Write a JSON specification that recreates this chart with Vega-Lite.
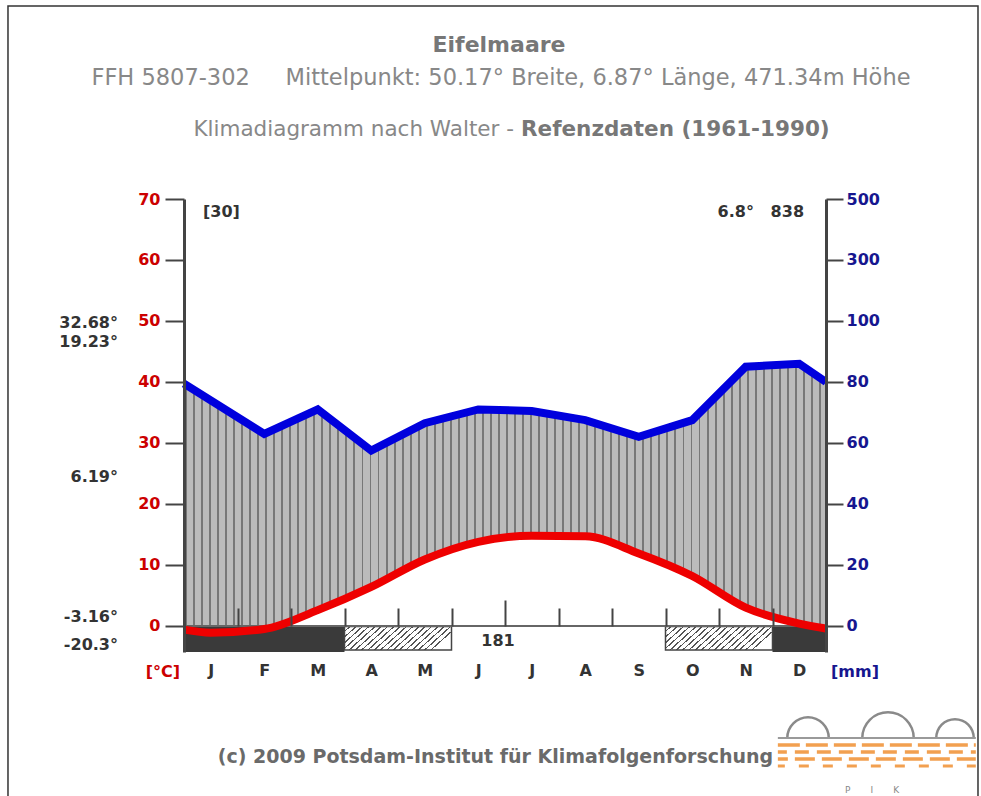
{
"$schema": "https://vega.github.io/schema/vega-lite/v6.json",
"width": 642, "height": 453,
"autosize": {"type": "none"},
"padding": {"left": 184, "top": 199, "right": 155, "bottom": 144},
"background": "white",
"config": {"view": {"stroke": null}, "axis": {"grid": false}},
"datasets": {
"temp": [{"m":0,"t":-0.6},{"m":0.5,"t":-1.1},{"m":1.5,"t":-0.5},{"m":2.5,"t":2.6},{"m":3.5,"t":6.4},{"m":4.5,"t":10.9},{"m":5.5,"t":13.8},{"m":6.5,"t":14.8},{"m":7.5,"t":14.7},{"m":8.5,"t":11.9},{"m":9.5,"t":8.2},{"m":10.5,"t":3.0},{"m":11.5,"t":0.4},{"m":12,"t":-0.4}],
"precip": [{"m":0,"mm":79.5},{"m":0.5,"mm":74},{"m":1.5,"mm":63},{"m":2.5,"mm":71},{"m":3.5,"mm":57.5},{"m":4.5,"mm":66.5},{"m":5.5,"mm":71},{"m":6.5,"mm":70.5},{"m":7.5,"mm":67.5},{"m":8.5,"mm":62},{"m":9.5,"mm":67.5},{"m":10.5,"mm":85},{"m":11.5,"mm":86},{"m":12,"mm":80}],
"frost": [{"start":0,"end":3},{"start":11,"end":12}],
"hatch": [{"start":3,"end":5},{"start":9,"end":11}],
"one": [{}]
},
"layer": [
{
"data": {"name": "precip"},
"layer": [
{"mark": {"type": "area", "color": {"gradient": "linear", "x1": 0, "y1": 0, "x2": 1, "y2": 0, "stops": [
{"offset":0,"color":"#bbb"},
{"offset":0.0015,"color":"#bbb"},{"offset":0.0015,"color":"#777"},{"offset":0.0045,"color":"#777"},{"offset":0.0045,"color":"#bbb"},
{"offset":0.014,"color":"#bbb"},{"offset":0.014,"color":"#777"},{"offset":0.017,"color":"#777"},{"offset":0.017,"color":"#bbb"},
{"offset":0.0265,"color":"#bbb"},{"offset":0.0265,"color":"#777"},{"offset":0.0295,"color":"#777"},{"offset":0.0295,"color":"#bbb"},
{"offset":0.039,"color":"#bbb"},{"offset":0.039,"color":"#777"},{"offset":0.042,"color":"#777"},{"offset":0.042,"color":"#bbb"},
{"offset":0.0515,"color":"#bbb"},{"offset":0.0515,"color":"#777"},{"offset":0.0545,"color":"#777"},{"offset":0.0545,"color":"#bbb"},
{"offset":0.064,"color":"#bbb"},{"offset":0.064,"color":"#777"},{"offset":0.067,"color":"#777"},{"offset":0.067,"color":"#bbb"},
{"offset":0.0765,"color":"#bbb"},{"offset":0.0765,"color":"#777"},{"offset":0.0795,"color":"#777"},{"offset":0.0795,"color":"#bbb"},
{"offset":0.089,"color":"#bbb"},{"offset":0.089,"color":"#777"},{"offset":0.092,"color":"#777"},{"offset":0.092,"color":"#bbb"},
{"offset":0.1015,"color":"#bbb"},{"offset":0.1015,"color":"#777"},{"offset":0.1045,"color":"#777"},{"offset":0.1045,"color":"#bbb"},
{"offset":0.114,"color":"#bbb"},{"offset":0.114,"color":"#777"},{"offset":0.117,"color":"#777"},{"offset":0.117,"color":"#bbb"},
{"offset":0.1265,"color":"#bbb"},{"offset":0.1265,"color":"#777"},{"offset":0.1295,"color":"#777"},{"offset":0.1295,"color":"#bbb"},
{"offset":0.139,"color":"#bbb"},{"offset":0.139,"color":"#777"},{"offset":0.142,"color":"#777"},{"offset":0.142,"color":"#bbb"},
{"offset":0.1515,"color":"#bbb"},{"offset":0.1515,"color":"#777"},{"offset":0.1545,"color":"#777"},{"offset":0.1545,"color":"#bbb"},
{"offset":0.164,"color":"#bbb"},{"offset":0.164,"color":"#777"},{"offset":0.167,"color":"#777"},{"offset":0.167,"color":"#bbb"},
{"offset":0.1765,"color":"#bbb"},{"offset":0.1765,"color":"#777"},{"offset":0.1795,"color":"#777"},{"offset":0.1795,"color":"#bbb"},
{"offset":0.189,"color":"#bbb"},{"offset":0.189,"color":"#777"},{"offset":0.192,"color":"#777"},{"offset":0.192,"color":"#bbb"},
{"offset":0.2015,"color":"#bbb"},{"offset":0.2015,"color":"#777"},{"offset":0.2045,"color":"#777"},{"offset":0.2045,"color":"#bbb"},
{"offset":0.214,"color":"#bbb"},{"offset":0.214,"color":"#777"},{"offset":0.217,"color":"#777"},{"offset":0.217,"color":"#bbb"},
{"offset":0.2265,"color":"#bbb"},{"offset":0.2265,"color":"#777"},{"offset":0.2295,"color":"#777"},{"offset":0.2295,"color":"#bbb"},
{"offset":0.239,"color":"#bbb"},{"offset":0.239,"color":"#777"},{"offset":0.242,"color":"#777"},{"offset":0.242,"color":"#bbb"},
{"offset":0.2515,"color":"#bbb"},{"offset":0.2515,"color":"#777"},{"offset":0.2545,"color":"#777"},{"offset":0.2545,"color":"#bbb"},
{"offset":0.264,"color":"#bbb"},{"offset":0.264,"color":"#777"},{"offset":0.267,"color":"#777"},{"offset":0.267,"color":"#bbb"},
{"offset":0.2765,"color":"#bbb"},{"offset":0.2765,"color":"#777"},{"offset":0.2795,"color":"#777"},{"offset":0.2795,"color":"#bbb"},
{"offset":0.289,"color":"#bbb"},{"offset":0.289,"color":"#777"},{"offset":0.292,"color":"#777"},{"offset":0.292,"color":"#bbb"},
{"offset":0.3015,"color":"#bbb"},{"offset":0.3015,"color":"#777"},{"offset":0.3045,"color":"#777"},{"offset":0.3045,"color":"#bbb"},
{"offset":0.314,"color":"#bbb"},{"offset":0.314,"color":"#777"},{"offset":0.317,"color":"#777"},{"offset":0.317,"color":"#bbb"},
{"offset":0.3265,"color":"#bbb"},{"offset":0.3265,"color":"#777"},{"offset":0.3295,"color":"#777"},{"offset":0.3295,"color":"#bbb"},
{"offset":0.339,"color":"#bbb"},{"offset":0.339,"color":"#777"},{"offset":0.342,"color":"#777"},{"offset":0.342,"color":"#bbb"},
{"offset":0.3515,"color":"#bbb"},{"offset":0.3515,"color":"#777"},{"offset":0.3545,"color":"#777"},{"offset":0.3545,"color":"#bbb"},
{"offset":0.364,"color":"#bbb"},{"offset":0.364,"color":"#777"},{"offset":0.367,"color":"#777"},{"offset":0.367,"color":"#bbb"},
{"offset":0.3765,"color":"#bbb"},{"offset":0.3765,"color":"#777"},{"offset":0.3795,"color":"#777"},{"offset":0.3795,"color":"#bbb"},
{"offset":0.389,"color":"#bbb"},{"offset":0.389,"color":"#777"},{"offset":0.392,"color":"#777"},{"offset":0.392,"color":"#bbb"},
{"offset":0.4015,"color":"#bbb"},{"offset":0.4015,"color":"#777"},{"offset":0.4045,"color":"#777"},{"offset":0.4045,"color":"#bbb"},
{"offset":0.414,"color":"#bbb"},{"offset":0.414,"color":"#777"},{"offset":0.417,"color":"#777"},{"offset":0.417,"color":"#bbb"},
{"offset":0.4265,"color":"#bbb"},{"offset":0.4265,"color":"#777"},{"offset":0.4295,"color":"#777"},{"offset":0.4295,"color":"#bbb"},
{"offset":0.439,"color":"#bbb"},{"offset":0.439,"color":"#777"},{"offset":0.442,"color":"#777"},{"offset":0.442,"color":"#bbb"},
{"offset":0.4515,"color":"#bbb"},{"offset":0.4515,"color":"#777"},{"offset":0.4545,"color":"#777"},{"offset":0.4545,"color":"#bbb"},
{"offset":0.464,"color":"#bbb"},{"offset":0.464,"color":"#777"},{"offset":0.467,"color":"#777"},{"offset":0.467,"color":"#bbb"},
{"offset":0.4765,"color":"#bbb"},{"offset":0.4765,"color":"#777"},{"offset":0.4795,"color":"#777"},{"offset":0.4795,"color":"#bbb"},
{"offset":0.489,"color":"#bbb"},{"offset":0.489,"color":"#777"},{"offset":0.492,"color":"#777"},{"offset":0.492,"color":"#bbb"},
{"offset":0.5015,"color":"#bbb"},{"offset":0.5015,"color":"#777"},{"offset":0.5045,"color":"#777"},{"offset":0.5045,"color":"#bbb"},
{"offset":0.514,"color":"#bbb"},{"offset":0.514,"color":"#777"},{"offset":0.517,"color":"#777"},{"offset":0.517,"color":"#bbb"},
{"offset":0.5265,"color":"#bbb"},{"offset":0.5265,"color":"#777"},{"offset":0.5295,"color":"#777"},{"offset":0.5295,"color":"#bbb"},
{"offset":0.539,"color":"#bbb"},{"offset":0.539,"color":"#777"},{"offset":0.542,"color":"#777"},{"offset":0.542,"color":"#bbb"},
{"offset":0.5515,"color":"#bbb"},{"offset":0.5515,"color":"#777"},{"offset":0.5545,"color":"#777"},{"offset":0.5545,"color":"#bbb"},
{"offset":0.564,"color":"#bbb"},{"offset":0.564,"color":"#777"},{"offset":0.567,"color":"#777"},{"offset":0.567,"color":"#bbb"},
{"offset":0.5765,"color":"#bbb"},{"offset":0.5765,"color":"#777"},{"offset":0.5795,"color":"#777"},{"offset":0.5795,"color":"#bbb"},
{"offset":0.589,"color":"#bbb"},{"offset":0.589,"color":"#777"},{"offset":0.592,"color":"#777"},{"offset":0.592,"color":"#bbb"},
{"offset":0.6015,"color":"#bbb"},{"offset":0.6015,"color":"#777"},{"offset":0.6045,"color":"#777"},{"offset":0.6045,"color":"#bbb"},
{"offset":0.614,"color":"#bbb"},{"offset":0.614,"color":"#777"},{"offset":0.617,"color":"#777"},{"offset":0.617,"color":"#bbb"},
{"offset":0.6265,"color":"#bbb"},{"offset":0.6265,"color":"#777"},{"offset":0.6295,"color":"#777"},{"offset":0.6295,"color":"#bbb"},
{"offset":0.639,"color":"#bbb"},{"offset":0.639,"color":"#777"},{"offset":0.642,"color":"#777"},{"offset":0.642,"color":"#bbb"},
{"offset":0.6515,"color":"#bbb"},{"offset":0.6515,"color":"#777"},{"offset":0.6545,"color":"#777"},{"offset":0.6545,"color":"#bbb"},
{"offset":0.664,"color":"#bbb"},{"offset":0.664,"color":"#777"},{"offset":0.667,"color":"#777"},{"offset":0.667,"color":"#bbb"},
{"offset":0.6765,"color":"#bbb"},{"offset":0.6765,"color":"#777"},{"offset":0.6795,"color":"#777"},{"offset":0.6795,"color":"#bbb"},
{"offset":0.689,"color":"#bbb"},{"offset":0.689,"color":"#777"},{"offset":0.692,"color":"#777"},{"offset":0.692,"color":"#bbb"},
{"offset":0.7015,"color":"#bbb"},{"offset":0.7015,"color":"#777"},{"offset":0.7045,"color":"#777"},{"offset":0.7045,"color":"#bbb"},
{"offset":0.714,"color":"#bbb"},{"offset":0.714,"color":"#777"},{"offset":0.717,"color":"#777"},{"offset":0.717,"color":"#bbb"},
{"offset":0.7265,"color":"#bbb"},{"offset":0.7265,"color":"#777"},{"offset":0.7295,"color":"#777"},{"offset":0.7295,"color":"#bbb"},
{"offset":0.739,"color":"#bbb"},{"offset":0.739,"color":"#777"},{"offset":0.742,"color":"#777"},{"offset":0.742,"color":"#bbb"},
{"offset":0.7515,"color":"#bbb"},{"offset":0.7515,"color":"#777"},{"offset":0.7545,"color":"#777"},{"offset":0.7545,"color":"#bbb"},
{"offset":0.764,"color":"#bbb"},{"offset":0.764,"color":"#777"},{"offset":0.767,"color":"#777"},{"offset":0.767,"color":"#bbb"},
{"offset":0.7765,"color":"#bbb"},{"offset":0.7765,"color":"#777"},{"offset":0.7795,"color":"#777"},{"offset":0.7795,"color":"#bbb"},
{"offset":0.789,"color":"#bbb"},{"offset":0.789,"color":"#777"},{"offset":0.792,"color":"#777"},{"offset":0.792,"color":"#bbb"},
{"offset":0.8015,"color":"#bbb"},{"offset":0.8015,"color":"#777"},{"offset":0.8045,"color":"#777"},{"offset":0.8045,"color":"#bbb"},
{"offset":0.814,"color":"#bbb"},{"offset":0.814,"color":"#777"},{"offset":0.817,"color":"#777"},{"offset":0.817,"color":"#bbb"},
{"offset":0.8265,"color":"#bbb"},{"offset":0.8265,"color":"#777"},{"offset":0.8295,"color":"#777"},{"offset":0.8295,"color":"#bbb"},
{"offset":0.839,"color":"#bbb"},{"offset":0.839,"color":"#777"},{"offset":0.842,"color":"#777"},{"offset":0.842,"color":"#bbb"},
{"offset":0.8515,"color":"#bbb"},{"offset":0.8515,"color":"#777"},{"offset":0.8545,"color":"#777"},{"offset":0.8545,"color":"#bbb"},
{"offset":0.864,"color":"#bbb"},{"offset":0.864,"color":"#777"},{"offset":0.867,"color":"#777"},{"offset":0.867,"color":"#bbb"},
{"offset":0.8765,"color":"#bbb"},{"offset":0.8765,"color":"#777"},{"offset":0.8795,"color":"#777"},{"offset":0.8795,"color":"#bbb"},
{"offset":0.889,"color":"#bbb"},{"offset":0.889,"color":"#777"},{"offset":0.892,"color":"#777"},{"offset":0.892,"color":"#bbb"},
{"offset":0.9015,"color":"#bbb"},{"offset":0.9015,"color":"#777"},{"offset":0.9045,"color":"#777"},{"offset":0.9045,"color":"#bbb"},
{"offset":0.914,"color":"#bbb"},{"offset":0.914,"color":"#777"},{"offset":0.917,"color":"#777"},{"offset":0.917,"color":"#bbb"},
{"offset":0.9265,"color":"#bbb"},{"offset":0.9265,"color":"#777"},{"offset":0.9295,"color":"#777"},{"offset":0.9295,"color":"#bbb"},
{"offset":0.939,"color":"#bbb"},{"offset":0.939,"color":"#777"},{"offset":0.942,"color":"#777"},{"offset":0.942,"color":"#bbb"},
{"offset":0.9515,"color":"#bbb"},{"offset":0.9515,"color":"#777"},{"offset":0.9545,"color":"#777"},{"offset":0.9545,"color":"#bbb"},
{"offset":0.964,"color":"#bbb"},{"offset":0.964,"color":"#777"},{"offset":0.967,"color":"#777"},{"offset":0.967,"color":"#bbb"},
{"offset":0.9765,"color":"#bbb"},{"offset":0.9765,"color":"#777"},{"offset":0.9795,"color":"#777"},{"offset":0.9795,"color":"#bbb"},
{"offset":0.989,"color":"#bbb"},{"offset":0.989,"color":"#777"},{"offset":0.992,"color":"#777"},{"offset":0.992,"color":"#bbb"},
{"offset":1,"color":"#bbb"}
]}},
 "encoding": {
  "x": {"field": "m", "type": "quantitative", "scale": {"domain": [0, 12], "nice": false, "zero": false}, "axis": null},
  "y": {"field": "mm", "type": "quantitative", "scale": {"domain": [-8.525, 140], "nice": false, "zero": false},
        "axis": {"orient": "right", "values": [0, 20, 40, 60, 80, 100, 120, 140], "labelExpr": "datum.value == 120 ? '300' : datum.value == 140 ? '500' : datum.label", "title": null, "tickSize": 17, "tickWidth": 2, "tickColor": "#444", "domainColor": "#444", "domainWidth": 3, "labelPadding": 3, "labelColor": "#16168f", "labelFont": "DejaVu Sans", "labelFontWeight": "bold", "labelFontSize": 16, "zindex": 1, "grid": false}},
  "y2": {"datum": 0}
 }},
{"mark": {"type": "line", "color": "#0000dd", "strokeWidth": 8},
 "encoding": {
  "x": {"field": "m", "type": "quantitative", "axis": null},
  "y": {"field": "mm", "type": "quantitative",
        "axis": {"orient": "left", "values": [0, 20, 40, 60, 80, 100, 120, 140], "labelExpr": "datum.value / 2", "title": null, "tickSize": 19, "tickWidth": 2, "tickColor": "#444", "domainColor": "#444", "domainWidth": 3, "labelPadding": 5, "labelColor": "#cc0000", "labelFont": "DejaVu Sans", "labelFontWeight": "bold", "labelFontSize": 16, "zindex": 1, "grid": false}}
 }}
],
"resolve": {"axis": {"y": "independent"}}
},
{
"layer": [
{"data": {"name": "temp"},
 "mark": {"type": "area", "color": "white", "interpolate": "monotone"},
 "encoding": {
  "x": {"field": "m", "type": "quantitative", "scale": {"domain": [0, 12], "nice": false, "zero": false},
        "axis": {"orient": "bottom", "values": [0.5, 1.5, 2.5, 3.5, 4.5, 5.5, 6.5, 7.5, 8.5, 9.5, 10.5, 11.5], "labelExpr": "['J','F','M','A','M','J','J','A','S','O','N','D'][floor(datum.value)]", "domain": false, "ticks": false, "labelPadding": 10, "labelFont": "DejaVu Sans", "labelFontWeight": "bold", "labelFontSize": 16, "labelColor": "#333", "labelFlush": false, "title": null, "grid": false}},
  "y": {"field": "t", "type": "quantitative", "scale": {"domain": [-4.262, 70], "nice": false, "zero": false}, "axis": null},
  "y2": {"datum": 0}
 }},
{"data": {"name": "frost"},
 "mark": {"type": "rect", "color": "#3a3a3a"},
 "encoding": {
  "x": {"field": "start", "type": "quantitative", "axis": null},
  "x2": {"field": "end"},
  "y": {"datum": 0, "type": "quantitative", "axis": null},
  "y2": {"datum": -4.262}
 }},
{"data": {"name": "hatch"},
 "mark": {"type": "rect", "stroke": "#444", "strokeWidth": 1.5, "fill": {"gradient": "linear", "x1": 0, "y1": 0, "x2": 1, "y2": 0.243, "stops": [
{"offset":0,"color":"#fff"},
{"offset":0.0389,"color":"#fff"},{"offset":0.0389,"color":"#555"},{"offset":0.0539,"color":"#555"},{"offset":0.0539,"color":"#fff"},
{"offset":0.0944,"color":"#fff"},{"offset":0.0944,"color":"#555"},{"offset":0.1094,"color":"#555"},{"offset":0.1094,"color":"#fff"},
{"offset":0.15,"color":"#fff"},{"offset":0.15,"color":"#555"},{"offset":0.165,"color":"#555"},{"offset":0.165,"color":"#fff"},
{"offset":0.2056,"color":"#fff"},{"offset":0.2056,"color":"#555"},{"offset":0.2206,"color":"#555"},{"offset":0.2206,"color":"#fff"},
{"offset":0.2611,"color":"#fff"},{"offset":0.2611,"color":"#555"},{"offset":0.2761,"color":"#555"},{"offset":0.2761,"color":"#fff"},
{"offset":0.3167,"color":"#fff"},{"offset":0.3167,"color":"#555"},{"offset":0.3317,"color":"#555"},{"offset":0.3317,"color":"#fff"},
{"offset":0.3722,"color":"#fff"},{"offset":0.3722,"color":"#555"},{"offset":0.3872,"color":"#555"},{"offset":0.3872,"color":"#fff"},
{"offset":0.4278,"color":"#fff"},{"offset":0.4278,"color":"#555"},{"offset":0.4428,"color":"#555"},{"offset":0.4428,"color":"#fff"},
{"offset":0.4833,"color":"#fff"},{"offset":0.4833,"color":"#555"},{"offset":0.4983,"color":"#555"},{"offset":0.4983,"color":"#fff"},
{"offset":0.5389,"color":"#fff"},{"offset":0.5389,"color":"#555"},{"offset":0.5539,"color":"#555"},{"offset":0.5539,"color":"#fff"},
{"offset":0.5944,"color":"#fff"},{"offset":0.5944,"color":"#555"},{"offset":0.6094,"color":"#555"},{"offset":0.6094,"color":"#fff"},
{"offset":0.65,"color":"#fff"},{"offset":0.65,"color":"#555"},{"offset":0.665,"color":"#555"},{"offset":0.665,"color":"#fff"},
{"offset":0.7056,"color":"#fff"},{"offset":0.7056,"color":"#555"},{"offset":0.7206,"color":"#555"},{"offset":0.7206,"color":"#fff"},
{"offset":0.7611,"color":"#fff"},{"offset":0.7611,"color":"#555"},{"offset":0.7761,"color":"#555"},{"offset":0.7761,"color":"#fff"},
{"offset":0.8167,"color":"#fff"},{"offset":0.8167,"color":"#555"},{"offset":0.8317,"color":"#555"},{"offset":0.8317,"color":"#fff"},
{"offset":0.8722,"color":"#fff"},{"offset":0.8722,"color":"#555"},{"offset":0.8872,"color":"#555"},{"offset":0.8872,"color":"#fff"},
{"offset":0.9278,"color":"#fff"},{"offset":0.9278,"color":"#555"},{"offset":0.9428,"color":"#555"},{"offset":0.9428,"color":"#fff"},
{"offset":0.9833,"color":"#fff"},{"offset":0.9833,"color":"#555"},{"offset":0.9983,"color":"#555"},{"offset":0.9983,"color":"#fff"},
{"offset":1,"color":"#fff"}
]}},
 "encoding": {
  "x": {"field": "start", "type": "quantitative",
        "axis": {"orient": "top", "offset": -427, "values": [1, 2, 3, 4, 5, 6, 7, 8, 9, 10, 11], "labels": false, "domain": false, "ticks": true, "tickSize": {"condition": {"test": "datum.value == 6", "value": 26}, "value": 18}, "tickWidth": 2, "tickColor": "#444", "zindex": 1, "title": null, "grid": false}},
  "x2": {"field": "end"},
  "y": {"datum": -0.1, "type": "quantitative", "axis": null},
  "y2": {"datum": -3.95}
 }},
{"data": {"name": "one"},
 "mark": {"type": "rule", "color": "#666", "strokeWidth": 2},
 "encoding": {"y": {"datum": 0, "type": "quantitative", "axis": null}}},
{"data": {"name": "one"},
 "mark": {"type": "text", "text": "181", "font": "DejaVu Sans", "fontWeight": "bold", "fontSize": 16, "color": "#333", "align": "center", "baseline": "middle"},
 "encoding": {"x": {"datum": 5.87, "type": "quantitative", "axis": null}, "y": {"datum": -2.46, "type": "quantitative", "axis": null}}},
{"data": {"name": "temp"},
 "mark": {"type": "line", "color": "#ee0000", "strokeWidth": 8, "interpolate": "monotone"},
 "encoding": {
  "x": {"field": "m", "type": "quantitative", "axis": null},
  "y": {"field": "t", "type": "quantitative", "axis": null}
 }},
{"data": {"name": "one"},
 "mark": {"type": "text", "text": "Eifelmaare", "font": "DejaVu Sans", "fontWeight": "bold", "fontSize": 22, "color": "#777", "align": "center", "baseline": "middle"},
 "encoding": {"x": {"datum": 5.888, "type": "quantitative", "axis": null}, "y": {"datum": 95.25, "type": "quantitative", "axis": null}}},
{"data": {"name": "one"},
 "mark": {"type": "text", "text": "FFH 5807-302\u00a0\u00a0\u00a0\u00a0\u00a0Mittelpunkt: 50.17° Breite, 6.87° Länge, 471.34m Höhe", "font": "DejaVu Sans", "fontSize": 22.5, "color": "#888", "align": "center", "baseline": "middle"},
 "encoding": {"x": {"datum": 5.925, "type": "quantitative", "axis": null}, "y": {"datum": 89.84, "type": "quantitative", "axis": null}}},
{"data": {"name": "one"},
 "mark": {"type": "text", "text": "Klimadiagramm nach Walter -", "font": "DejaVu Sans", "fontSize": 21.5, "color": "#888", "align": "right", "baseline": "middle"},
 "encoding": {"x": {"datum": 6.168, "type": "quantitative", "axis": null}, "y": {"datum": 81.31, "type": "quantitative", "axis": null}}},
{"data": {"name": "one"},
 "mark": {"type": "text", "text": "Refenzdaten (1961-1990)", "font": "DejaVu Sans", "fontWeight": "bold", "fontSize": 21.5, "color": "#777", "align": "left", "baseline": "middle"},
 "encoding": {"x": {"datum": 6.299, "type": "quantitative", "axis": null}, "y": {"datum": 81.31, "type": "quantitative", "axis": null}}},
{"data": {"name": "one"},
 "mark": {"type": "text", "text": "[30]", "font": "DejaVu Sans", "fontWeight": "bold", "fontSize": 16, "color": "#333", "align": "left", "baseline": "middle"},
 "encoding": {"x": {"datum": 0.355, "type": "quantitative", "axis": null}, "y": {"datum": 67.87, "type": "quantitative", "axis": null}}},
{"data": {"name": "one"},
 "mark": {"type": "text", "text": "6.8°\u00a0\u00a0\u00a0838", "font": "DejaVu Sans", "fontWeight": "bold", "fontSize": 16, "color": "#333", "align": "right", "baseline": "middle"},
 "encoding": {"x": {"datum": 11.589, "type": "quantitative", "axis": null}, "y": {"datum": 67.87, "type": "quantitative", "axis": null}}},
{"data": {"name": "one"},
 "mark": {"type": "text", "text": "32.68°", "font": "DejaVu Sans", "fontWeight": "bold", "fontSize": 16, "color": "#333", "align": "right", "baseline": "middle"},
 "encoding": {"x": {"datum": -1.234, "type": "quantitative", "axis": null}, "y": {"datum": 49.67, "type": "quantitative", "axis": null}}},
{"data": {"name": "one"},
 "mark": {"type": "text", "text": "19.23°", "font": "DejaVu Sans", "fontWeight": "bold", "fontSize": 16, "color": "#333", "align": "right", "baseline": "middle"},
 "encoding": {"x": {"datum": -1.234, "type": "quantitative", "axis": null}, "y": {"datum": 46.56, "type": "quantitative", "axis": null}}},
{"data": {"name": "one"},
 "mark": {"type": "text", "text": "6.19°", "font": "DejaVu Sans", "fontWeight": "bold", "fontSize": 16, "color": "#333", "align": "right", "baseline": "middle"},
 "encoding": {"x": {"datum": -1.234, "type": "quantitative", "axis": null}, "y": {"datum": 24.43, "type": "quantitative", "axis": null}}},
{"data": {"name": "one"},
 "mark": {"type": "text", "text": "-3.16°", "font": "DejaVu Sans", "fontWeight": "bold", "fontSize": 16, "color": "#333", "align": "right", "baseline": "middle"},
 "encoding": {"x": {"datum": -1.234, "type": "quantitative", "axis": null}, "y": {"datum": 1.475, "type": "quantitative", "axis": null}}},
{"data": {"name": "one"},
 "mark": {"type": "text", "text": "-20.3°", "font": "DejaVu Sans", "fontWeight": "bold", "fontSize": 16, "color": "#333", "align": "right", "baseline": "middle"},
 "encoding": {"x": {"datum": -1.234, "type": "quantitative", "axis": null}, "y": {"datum": -3.115, "type": "quantitative", "axis": null}}},
{"data": {"name": "one"},
 "mark": {"type": "text", "text": "[°C]", "font": "DejaVu Sans", "fontWeight": "bold", "fontSize": 16, "color": "#cc0000", "align": "center", "baseline": "middle"},
 "encoding": {"x": {"datum": -0.393, "type": "quantitative", "axis": null}, "y": {"datum": -7.54, "type": "quantitative", "axis": null}}},
{"data": {"name": "one"},
 "mark": {"type": "text", "text": "[mm]", "font": "DejaVu Sans", "fontWeight": "bold", "fontSize": 16, "color": "#16168f", "align": "center", "baseline": "middle"},
 "encoding": {"x": {"datum": 12.542, "type": "quantitative", "axis": null}, "y": {"datum": -7.54, "type": "quantitative", "axis": null}}},
{"data": {"name": "one"},
 "mark": {"type": "text", "text": "(c) 2009 Potsdam-Institut für Klimafolgenforschung", "font": "DejaVu Sans", "fontWeight": "bold", "fontSize": 19, "color": "#6a6a6a", "align": "center", "baseline": "middle"},
 "encoding": {"x": {"datum": 5.822, "type": "quantitative", "axis": null}, "y": {"datum": -21.475, "type": "quantitative", "axis": null}}},
{"data": {"name": "one"},
 "mark": {"type": "arc", "radius": 22, "radius2": 19.5, "theta": -1.5708, "theta2": 1.5708, "color": "#8a8a8a"},
 "encoding": {"x": {"datum": 11.664, "type": "quantitative", "axis": null}, "y": {"datum": -18.36, "type": "quantitative", "axis": null}}},
{"data": {"name": "one"},
 "mark": {"type": "arc", "radius": 27, "radius2": 24.5, "theta": -1.5708, "theta2": 1.5708, "color": "#8a8a8a"},
 "encoding": {"x": {"datum": 13.159, "type": "quantitative", "axis": null}, "y": {"datum": -18.36, "type": "quantitative", "axis": null}}},
{"data": {"name": "one"},
 "mark": {"type": "arc", "radius": 20, "radius2": 17.5, "theta": -1.5708, "theta2": 1.5708, "color": "#8a8a8a"},
 "encoding": {"x": {"datum": 14.411, "type": "quantitative", "axis": null}, "y": {"datum": -18.36, "type": "quantitative", "axis": null}}},
{"data": {"name": "one"},
 "mark": {"type": "rule", "color": "#9a9a9a", "strokeWidth": 2},
 "encoding": {"x": {"datum": 11.1, "type": "quantitative", "axis": null}, "x2": {"datum": 14.8}, "y": {"datum": -18.36, "type": "quantitative", "axis": null}}},
{"data": {"name": "one"},
 "mark": {"type": "rule", "color": "#f2a050", "strokeWidth": 3.5, "strokeDash": [22, 6]},
 "encoding": {"x": {"datum": 11.1, "type": "quantitative", "axis": null}, "x2": {"datum": 14.8}, "y": {"datum": -19.51, "type": "quantitative", "axis": null}}},
{"data": {"name": "one"},
 "mark": {"type": "rule", "color": "#f2a050", "strokeWidth": 3.5, "strokeDash": [14, 8], "strokeDashOffset": 5},
 "encoding": {"x": {"datum": 11.1, "type": "quantitative", "axis": null}, "x2": {"datum": 14.8}, "y": {"datum": -20.66, "type": "quantitative", "axis": null}}},
{"data": {"name": "one"},
 "mark": {"type": "rule", "color": "#f2a050", "strokeWidth": 3.5, "strokeDash": [20, 7], "strokeDashOffset": 10},
 "encoding": {"x": {"datum": 11.1, "type": "quantitative", "axis": null}, "x2": {"datum": 14.8}, "y": {"datum": -21.8, "type": "quantitative", "axis": null}}},
{"data": {"name": "one"},
 "mark": {"type": "rule", "color": "#f2a050", "strokeWidth": 3, "strokeDash": [10, 14], "strokeDashOffset": 3},
 "encoding": {"x": {"datum": 11.1, "type": "quantitative", "axis": null}, "x2": {"datum": 14.8}, "y": {"datum": -22.95, "type": "quantitative", "axis": null}}},
{"data": {"name": "one"},
 "mark": {"type": "text", "text": "P\u00a0\u00a0\u00a0\u00a0\u00a0\u00a0\u00a0I\u00a0\u00a0\u00a0\u00a0\u00a0\u00a0\u00a0K", "font": "DejaVu Sans", "fontSize": 9, "color": "#888", "align": "center", "baseline": "middle"},
 "encoding": {"x": {"datum": 12.86, "type": "quantitative", "axis": null}, "y": {"datum": -26.89, "type": "quantitative", "axis": null}}},
{"data": {"name": "one"},
 "mark": {"type": "rect", "filled": false, "color": "#333", "strokeWidth": 1.5},
 "encoding": {"x": {"datum": -3.29, "type": "quantitative", "axis": null}, "x2": {"datum": 14.841}, "y": {"datum": 101.64, "type": "quantitative", "axis": null}, "y2": {"datum": -30}}}
],
"resolve": {"axis": {"x": "independent"}}
}
],
"resolve": {"scale": {"y": "independent"}, "axis": {"x": "independent"}}
}
